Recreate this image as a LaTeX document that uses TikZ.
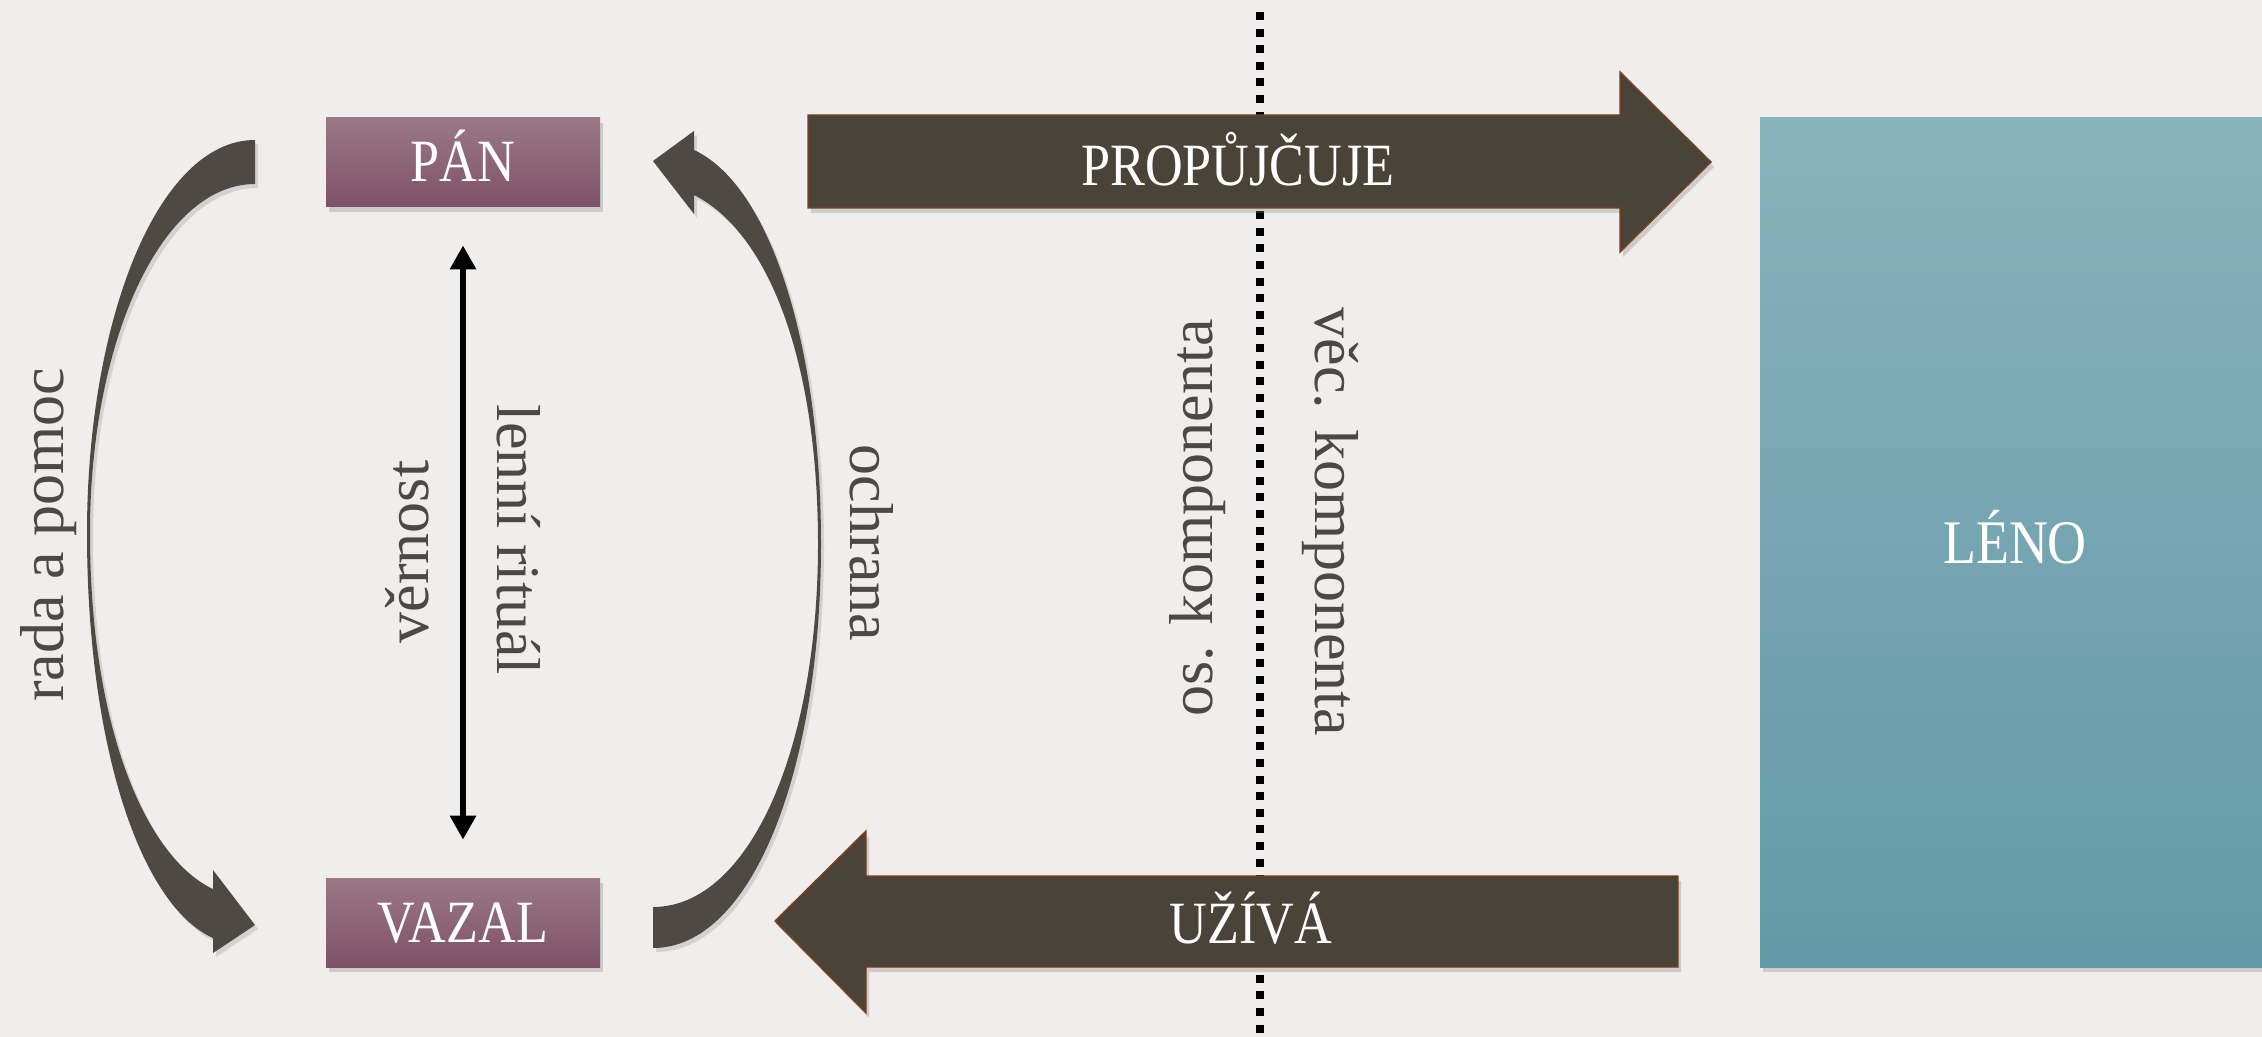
\documentclass[tikz,border=0pt]{standalone}
\usepackage{fontspec}
\setmainfont{Liberation Serif}
\newfontfamily\condfont[FakeStretch=0.87]{Liberation Serif}
\usetikzlibrary{arrows.meta,shadows}
\definecolor{paper}{HTML}{EFEEEC}
\definecolor{mauveT}{HTML}{9C7886}
\definecolor{mauveB}{HTML}{7D5267}
\definecolor{tealT}{HTML}{88B2BC}
\definecolor{tealB}{HTML}{6399A6}
\definecolor{arrowfill}{HTML}{4A4338}
\definecolor{arrowedge}{HTML}{7E3E20}
\definecolor{curvefill}{HTML}{4E4942}
\definecolor{labelgray}{HTML}{4D4843}
\tikzset{
  softshadow/.style={drop shadow={opacity=0.3, shadow xshift=1.5pt, shadow yshift=-2.5pt}},
  mauvebox/.style={rectangle, minimum width=137pt, minimum height=44.5pt, inner sep=0pt,
    top color=mauveT, bottom color=mauveB, draw=none, text=white,
    font=\condfont\fontsize{30}{30}\selectfont, text height=19.5pt, text depth=0pt, softshadow},
  lenobox/.style={rectangle, minimum width=255pt, minimum height=424.5pt, inner sep=0pt,
    top color=tealT, bottom color=tealB, draw=none, text=white,
    font=\condfont\fontsize{31}{31}\selectfont, text height=21pt, text depth=0pt, softshadow},
  bigarrow/.style={fill=arrowfill, draw=arrowedge, line width=0.7pt, softshadow},
  biglbl/.style={text=white, inner sep=0pt, font=\condfont\fontsize{30}{30}\selectfont,
    text height=19.5pt, text depth=0pt},
  curvearrow/.style={fill=curvefill, drop shadow={opacity=0.25, shadow xshift=1.5pt, shadow yshift=-2pt}},
  sidelbl/.style={font=\fontsize{31}{31}\selectfont, text=labelgray, inner sep=0pt, anchor=base},
  dotline/.style={line width=4pt, black, dash pattern=on 4pt off 4.3pt},
  dblarrow/.style={line width=3.2pt, black, {Triangle[width=12.5pt,length=12pt]}-{Triangle[width=12.5pt,length=12pt]},
    shorten <=19pt, shorten >=19pt}
}
\begin{document}
\begin{tikzpicture}[x=0.5pt,y=-0.5pt]
\fill[paper] (0,0) rectangle (2262,1037);
\useasboundingbox (0,0) rectangle (2262,1037);

% dotted divider
\coordinate (dtop) at (1260,12);
\coordinate (dbot) at (1260,1040);
\draw[dotline] (dtop) -- (dbot);

% boxes
\node[mauvebox] (pan) at (463,162.5) {PÁN};
\node[mauvebox] (vazal) at (463,922.5) {VAZAL};
\begin{scope}
\clip (0,0) rectangle (2262,1037);
\node[lenobox] (leno) at (2015,542.5) {LÉNO};
\end{scope}

% double arrow
\draw[dblarrow] (pan.south) -- (vazal.north);

% left curved arrow (rada a pomoc)
\path[curvearrow] (255,140)
  .. controls (158,140) and (87,320) .. (87,533)
  .. controls (87,745) and (140,905) .. (213,938)
  -- (213,953) -- (255,925) -- (213,870) -- (213,889)
  .. controls (147,858) and (90,730) .. (90,533)
  .. controls (90,340) and (162,184) .. (255,184) -- cycle;

% right curved arrow (ochrana)
\path[curvearrow] (653,948)
  .. controls (752,948) and (821,770) .. (821,544)
  .. controls (821,345) and (770,185) .. (694,150)
  -- (694,131) -- (653,161) -- (694,214) -- (694,195)
  .. controls (768,232) and (818,360) .. (818,544)
  .. controls (818,752) and (748,907) .. (653,907) -- cycle;

% big arrows
\path[bigarrow] (808,115) -- (1620,115) -- (1620,72) -- (1711,162) -- (1620,252) -- (1620,208) -- (808,208) -- cycle;
\node[biglbl] (prop) at (1238,166) {PROPŮJČUJE};
\path[bigarrow] (1678,876) -- (866,876) -- (866,831) -- (775,921) -- (866,1013) -- (866,967) -- (1678,967) -- cycle;
\node[biglbl] (uziva) at (1251,924) {UŽÍVÁ};

% side labels
\node[sidelbl, rotate=90] (rada) at (63,535) {rada a pomoc};
\node[sidelbl, rotate=90] (vernost) at (428,552) {věrnost};
\node[sidelbl, rotate=-90] (lenni) at (497,540) {lenní rituál};
\node[sidelbl, rotate=-90] (ochrana) at (850,543) {ochrana};
\node[sidelbl, rotate=90] (os) at (1212,518) {os. komponenta};
\node[sidelbl, rotate=-90] (vec) at (1315,522) {věc. komponenta};
\end{tikzpicture}
\end{document}
